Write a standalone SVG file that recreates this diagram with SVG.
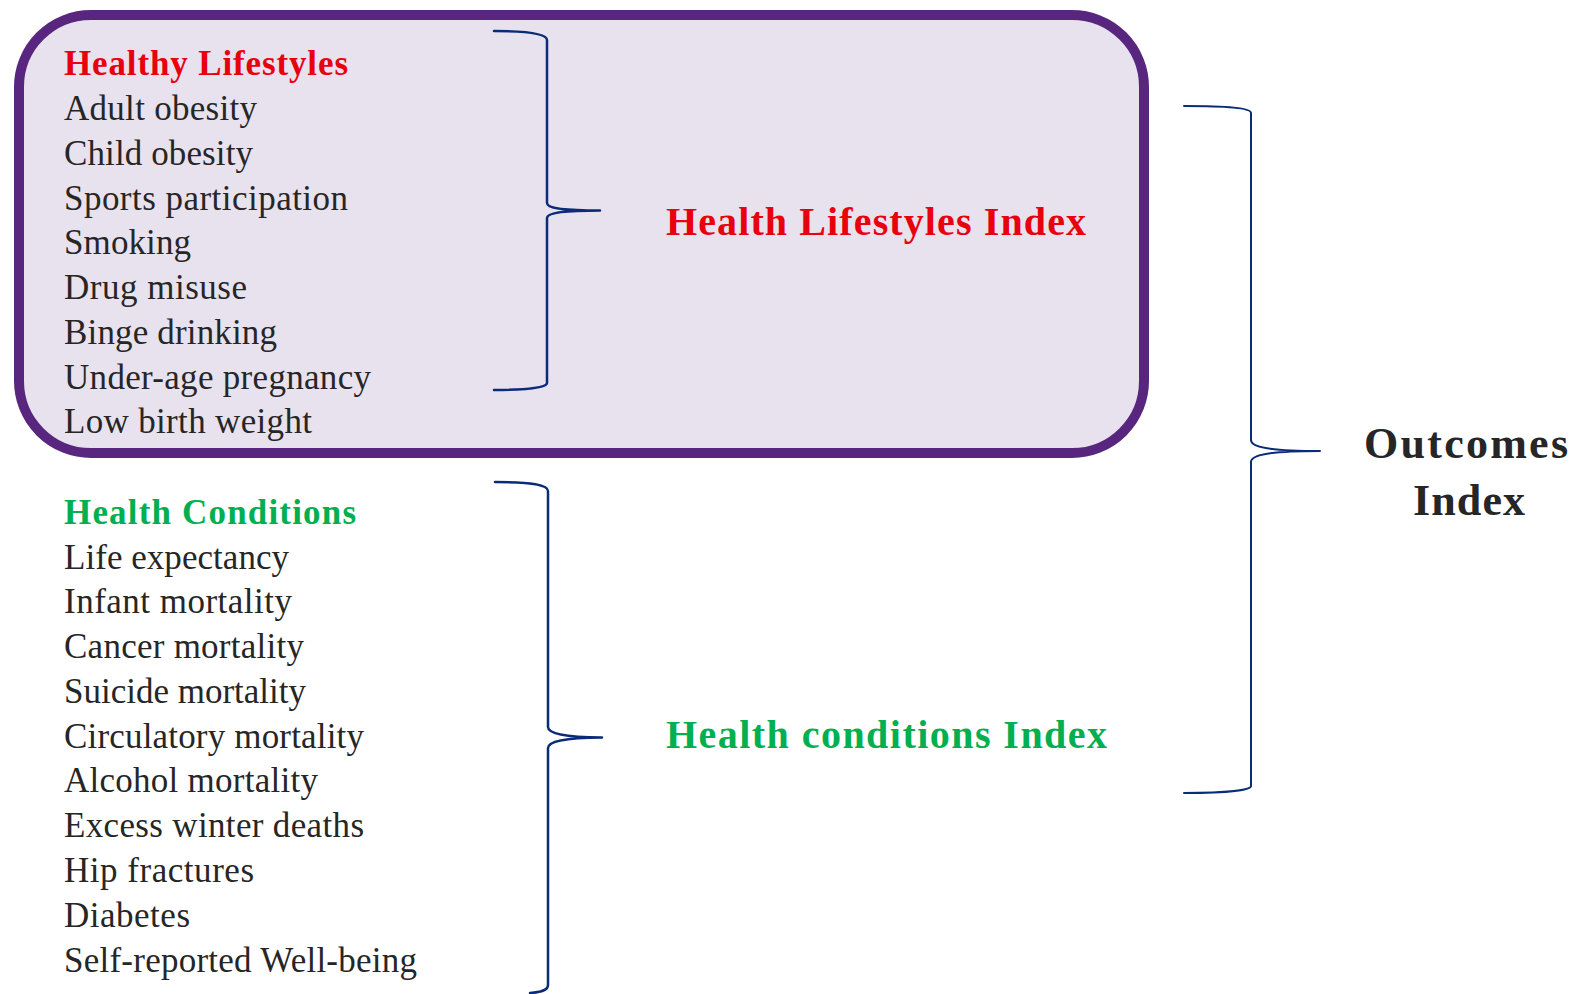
<svg xmlns="http://www.w3.org/2000/svg" width="1574" height="994" viewBox="0 0 1574 994">
<style>
.item{font-family:"Liberation Serif","Times New Roman",serif;font-size:35px;fill:#262626;}
.head{font-family:"Liberation Serif","Times New Roman",serif;font-size:35px;font-weight:bold;}
.idx{font-family:"Liberation Serif","Times New Roman",serif;font-size:40px;font-weight:bold;}
.out{font-family:"Liberation Serif","Times New Roman",serif;font-size:44px;font-weight:bold;fill:#262626;}
.red{fill:#E8000F;}
.green{fill:#00B050;}
.brace{fill:none;stroke:#0A2B78;stroke-width:2.5;stroke-linecap:round;stroke-linejoin:round;}
</style>
<rect width="1574" height="994" fill="#FFFFFF"/>
<g id="lifestyles-box">
<rect x="19" y="15" width="1125" height="438" rx="72" ry="72" fill="#E8E2EE" stroke="#58267E" stroke-width="10"/>
</g>
<g id="healthy-lifestyles-list">
<text class="head red" x="64" y="75" textLength="284" lengthAdjust="spacing">Healthy Lifestyles</text>
<text class="item" x="64" y="120" textLength="193" lengthAdjust="spacing">Adult obesity</text>
<text class="item" x="64" y="165" textLength="189" lengthAdjust="spacing">Child obesity</text>
<text class="item" x="64" y="210" textLength="284" lengthAdjust="spacing">Sports participation</text>
<text class="item" x="64" y="254" textLength="127" lengthAdjust="spacing">Smoking</text>
<text class="item" x="64" y="299" textLength="183" lengthAdjust="spacing">Drug misuse</text>
<text class="item" x="64" y="344" textLength="213" lengthAdjust="spacing">Binge drinking</text>
<text class="item" x="64" y="389" textLength="307" lengthAdjust="spacing">Under-age pregnancy</text>
<text class="item" x="64" y="433" textLength="248" lengthAdjust="spacing">Low birth weight</text>
</g>
<g id="health-conditions-list">
<text class="head green" x="64" y="524" textLength="292" lengthAdjust="spacing">Health Conditions</text>
<text class="item" x="64" y="569" textLength="225" lengthAdjust="spacing">Life expectancy</text>
<text class="item" x="64" y="613" textLength="228" lengthAdjust="spacing">Infant mortality</text>
<text class="item" x="64" y="658" textLength="240" lengthAdjust="spacing">Cancer mortality</text>
<text class="item" x="64" y="703" textLength="242" lengthAdjust="spacing">Suicide mortality</text>
<text class="item" x="64" y="748" textLength="300" lengthAdjust="spacing">Circulatory mortality</text>
<text class="item" x="64" y="792" textLength="254" lengthAdjust="spacing">Alcohol mortality</text>
<text class="item" x="64" y="837" textLength="300" lengthAdjust="spacing">Excess winter deaths</text>
<text class="item" x="64" y="882" textLength="190" lengthAdjust="spacing">Hip fractures</text>
<text class="item" x="64" y="927" textLength="126" lengthAdjust="spacing">Diabetes</text>
<text class="item" x="64" y="972" textLength="353" lengthAdjust="spacing">Self-reported Well-being</text>
</g>
<g id="health-lifestyles-index">
<text class="idx red" x="666" y="235" textLength="420" lengthAdjust="spacing">Health Lifestyles Index</text>
</g>
<g id="health-conditions-index">
<text class="idx green" x="666" y="748" textLength="441" lengthAdjust="spacing">Health conditions Index</text>
</g>
<g id="outcomes-index">
<text class="out" x="1364" y="458" textLength="204" lengthAdjust="spacing">Outcomes</text>
<text class="out" x="1413" y="515" textLength="112" lengthAdjust="spacing">Index</text>
</g>
<g id="connectors">
<path class="brace" d="M494 31 C530 31 547 34 547 40 L547 203 C547 208 561 210.5 600 210.5 C561 210.5 547 213 547 218 L547 383 C547 387 531 390 494 390"/>
<path class="brace" d="M495 482 C532 482 548 485 548 491 L548 727 C548 733 563 737.5 602 737.5 C563 737.5 548 742 548 748 L548 985 C548 990 542 992 530 993"/>
<path class="brace" d="M1184 106 C1228 106 1251 108 1251 113 L1251 440 C1251 447 1268 451 1320 451 C1268 451 1251 455 1251 462 L1251 786 C1251 790 1228 793 1184 793" style="stroke-width:2"/>
</g>
</svg>
